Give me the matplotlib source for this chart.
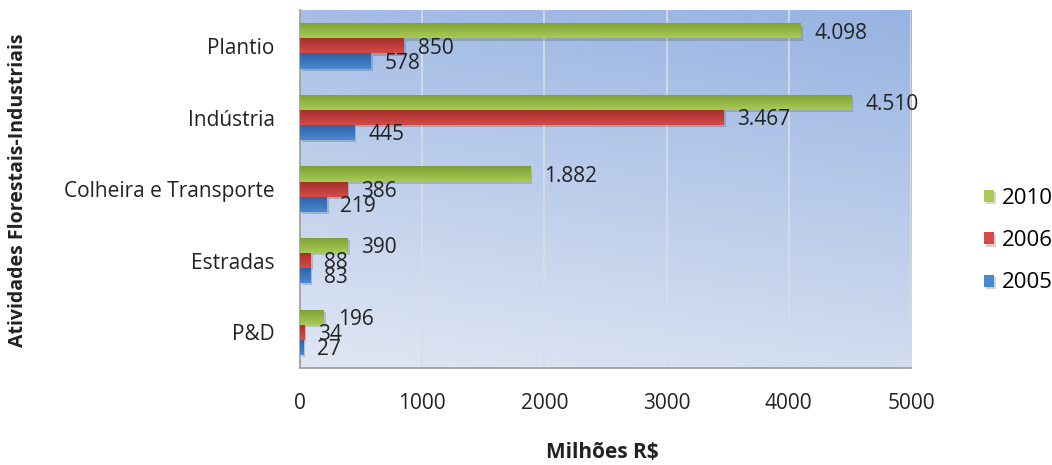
import numpy as np
import matplotlib
matplotlib.use("Agg")
import matplotlib.pyplot as plt
import matplotlib.patheffects as pe
from matplotlib.colors import LinearSegmentedColormap

# Investimentos por atividade (milhões R$)
atividades = ["Plantio", "Indústria", "Colheira e Transporte", "Estradas", "P&D"]
anos = ["2010", "2006", "2005"]
valores_2010 = [4098, 4510, 1882, 390, 196]
valores_2006 = [850, 3467, 386, 88, 34]
valores_2005 = [578, 445, 219, 83, 27]
xticks = [0, 1000, 2000, 3000, 4000, 5000]

cores = {"2010": ("#a9cb55", "#7d9f36"),
         "2006": ("#d44a47", "#a42f2d"),
         "2005": ("#4a88d0", "#2c60a3")}

plt.rcParams['font.family'] = ['Open Sans', 'DejaVu Sans']

fig = plt.figure(figsize=(10.52, 4.65), dpi=100)
ax = fig.add_axes([0.285, 0.209, 0.581, 0.769])

# fundo em degrade azul
grad = np.linspace(0, 1, 256).reshape(-1, 1)
gx = np.linspace(0, 1, 256).reshape(1, -1)
fundo = grad * 0.8 + gx * 0.2
cmap_fundo = LinearSegmentedColormap.from_list("fundo", ["#e0e7f3", "#97b3e2"])
ax.imshow(fundo, cmap=cmap_fundo, aspect="auto", extent=[0, 1, 0, 1],
          transform=ax.transAxes, origin="lower", zorder=0)

pos = np.arange(len(atividades))
h = 0.21
series = [("2010", valores_2010, -h), ("2006", valores_2006, 0.0), ("2005", valores_2005, h)]

handles = []
for ano, vals, off in series:
    claro, escuro = cores[ano]
    bars = ax.barh(pos + off, vals, height=h, color=claro, zorder=3,
                   label=ano, linewidth=0)
    handles.append(bars)
    cm = LinearSegmentedColormap.from_list(ano, [escuro, claro])
    for b, v in zip(bars, vals):
        b.set_path_effects([pe.SimplePatchShadow(offset=(1.5, -1.5), alpha=0.2),
                            pe.Normal()])
        x0, y0 = b.get_x(), b.get_y()
        w, hh = b.get_width(), b.get_height()
        im = ax.imshow(np.linspace(0, 1, 50).reshape(-1, 1), cmap=cm, aspect="auto",
                       extent=[x0, x0 + w, y0 + hh, y0], origin="upper", zorder=4)
        im.set_clip_path(b)
        ax.annotate(f"{v:,}".replace(",", "."), xy=(v, b.get_y() + hh / 2),
                    xytext=(10, -1.5), textcoords="offset points", va="center",
                    ha="left", fontsize=15, color="#222222", zorder=6)

ax.set_xlim(0, 5000)
ax.set_ylim(len(atividades) - 0.5, -0.5)
ax.set_xticks(xticks)
ax.set_xticklabels([str(t) for t in xticks], fontsize=15)
ax.set_yticks(pos)
ax.set_yticklabels(atividades, fontsize=15)
ax.tick_params(axis="x", length=0, pad=18, colors="#222222")
ax.tick_params(axis="y", length=0, pad=18, colors="#222222")
ax.grid(axis="x", color="#d8dde6", linewidth=1.2, zorder=1)
ax.set_axisbelow(True)
for s in ["top", "right"]:
    ax.spines[s].set_visible(False)
for s in ["left", "bottom"]:
    ax.spines[s].set_color("#9a9a9a")
    ax.spines[s].set_linewidth(1.2)

fig.text(0.573, 0.027, "Milhões R$", fontsize=15, fontweight="bold",
         ha="center", va="center", color="#222222")
fig.text(0.017, 0.59, "Atividades Florestais-Industriais", fontsize=14,
         fontweight="bold", rotation=90, ha="center", va="center", color="#222222")

fig.legend(handles=handles, labels=anos, loc="center left",
           bbox_to_anchor=(0.935, 0.482), frameon=False, fontsize=16,
           handlelength=0.45, handleheight=0.45, labelspacing=0.95,
           handletextpad=0.35, borderpad=0, borderaxespad=0)

fig.savefig("out.png", dpi=100)
